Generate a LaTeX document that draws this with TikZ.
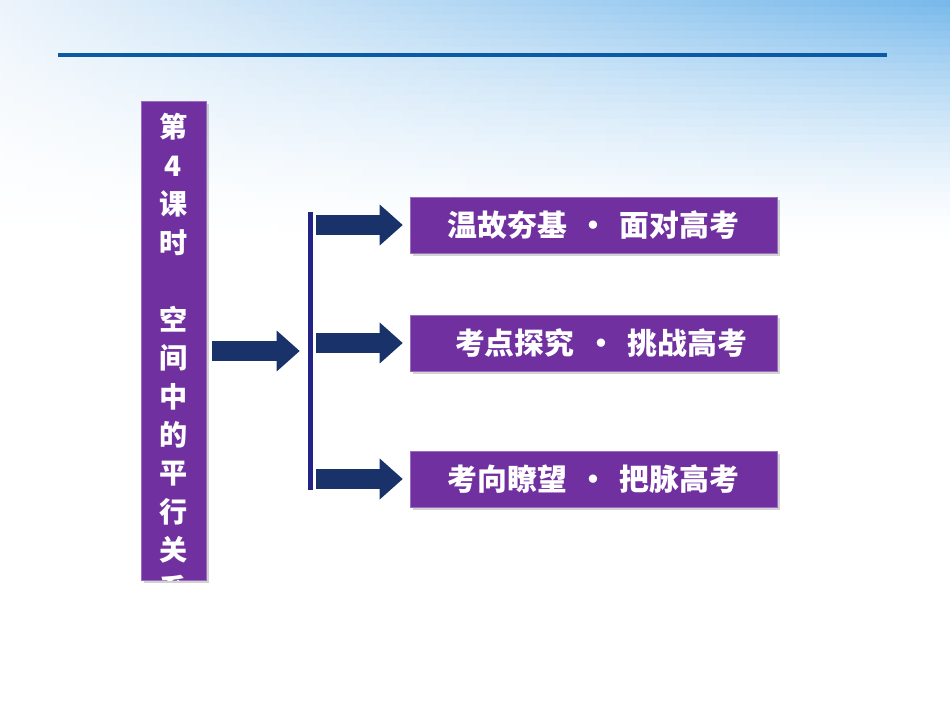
\documentclass[tikz,border=0pt]{standalone}
\usepackage{fontspec}
\newfontfamily\cjk{Noto Sans CJK SC}
\usepackage{tikz}
\usetikzlibrary{positioning, arrows.meta, shadows}
\definecolor{boxpurple}{RGB}{112,48,160}
\definecolor{arrownavy}{RGB}{25,50,105}
\definecolor{barblue}{RGB}{35,35,135}
\definecolor{ruleblue}{RGB}{10,90,165}
\definecolor{skyblue}{RGB}{120,185,235}
\definecolor{paleblue}{RGB}{236,244,251}

\begin{document}
\begin{tikzpicture}[x=0.02cm, y=-0.02cm,
    shade/.style={drop shadow={opacity=0.35, shadow xshift=0.06cm, shadow yshift=-0.06cm}},
    mainbox/.style={fill=boxpurple, draw=boxpurple!70!white, minimum width=1.3cm,
      minimum height=9.58cm, inner sep=0pt, shade},
    sect/.style={fill=boxpurple, draw=boxpurple!70!white, minimum width=7.34cm,
      minimum height=1.12cm, inner sep=0pt, text=white, shade,
      font=\cjk\bfseries\fontsize{17pt}{20pt}\selectfont},
    blockarr/.style={line width=0.4cm, arrownavy,
      -{Triangle[length=0.46cm, width=0.82cm, line width=0pt]}}
  ]
  \useasboundingbox (0,0) rectangle (950,713);
  % background
  \fill[white] (0,0) rectangle (950,713);
  \foreach \r in {0,...,29}{
    \pgfmathsetmacro\p{100*(1-\r/30)^1.5}
    \fill[left color=paleblue!\p!white, right color=skyblue!\p!white]
      (0,\r*8) rectangle (950,\r*8+8.5);
  }
  \draw[ruleblue, line width=0.08cm] (58,55) -- (887,55);

  \node[mainbox] (main) at (173.5,340.5) {};
  \begin{scope}
    \clip (main.north west) rectangle (main.south east);
    \node[anchor=north, inner sep=0pt, text=white, align=center,
      font=\cjk\bfseries\fontsize{16pt}{21.9pt}\selectfont] (title) at (173.5,113)
      {第\\4\\课\\时\\\strut\\空\\间\\中\\的\\平\\行\\关\\系};
  \end{scope}

  \node[fill=barblue, minimum width=0.1cm, minimum height=5.56cm, inner sep=0pt] (bar) at (310.5,351) {};

  \node[sect] (s1) at (593.5,225) {温故夯基\makebox[1.77em]{·}面对高考};
  \node[sect] (s2) at (593.5,343) {\hspace{0.5em}考点探究\makebox[1.77em]{·}挑战高考};
  \node[sect] (s3) at (593.5,479) {考向瞭望\makebox[1.77em]{·}把脉高考\hspace{0.4em}};

  \draw[blockarr, shorten <=0.12cm, shorten >=0.16cm] (main.east |- bar) -- (bar.west);
  \draw[blockarr, shorten <=0.06cm, shorten >=0.14cm] (bar.east |- s1.west) -- (s1.west);
  \draw[blockarr, shorten <=0.06cm, shorten >=0.14cm] (bar.east |- s2.west) -- (s2.west);
  \draw[blockarr, shorten <=0.06cm, shorten >=0.14cm] (bar.east |- s3.west) -- (s3.west);
\end{tikzpicture}
\end{document}
